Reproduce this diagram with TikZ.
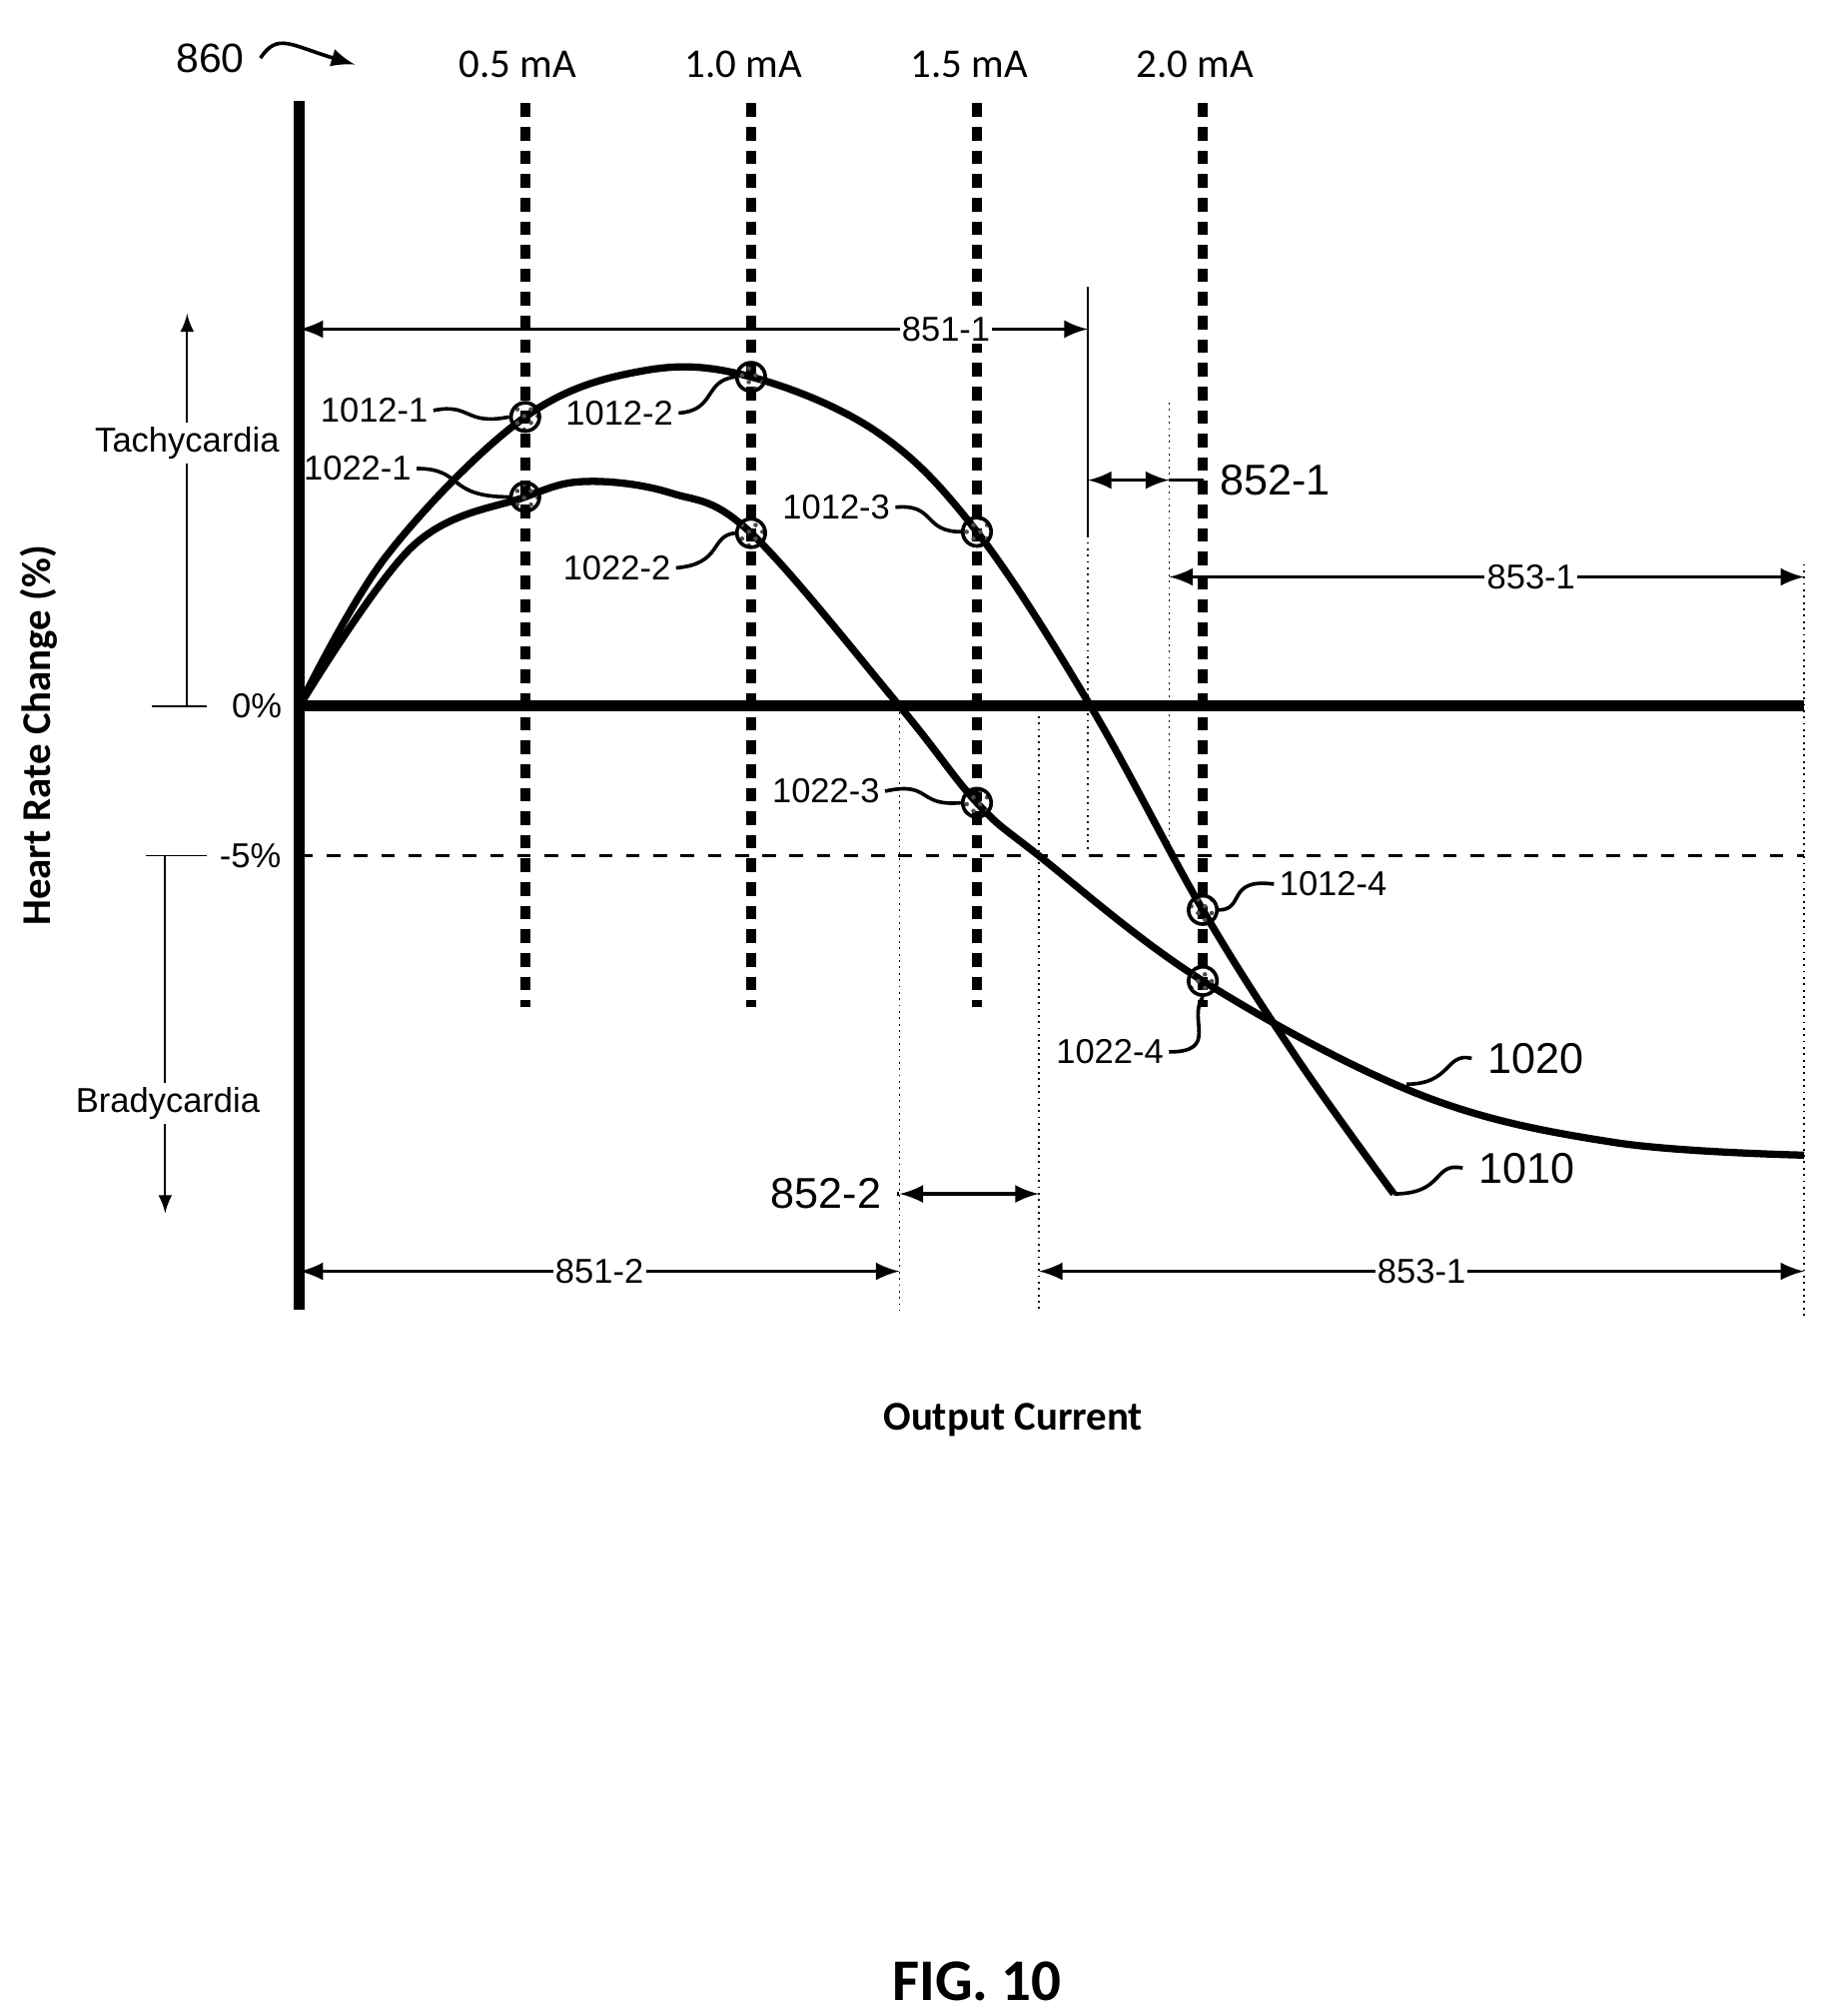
\documentclass[tikz,border=0pt]{standalone}
\usepackage{fontspec}
\setmainfont{Liberation Sans}
\newfontfamily\calfont{Carlito}
\usetikzlibrary{patterns}

\tikzset{
  lbl/.style={font=\fontsize{7.6}{9}\selectfont, inner sep=1pt},
  dimlbl/.style={font=\fontsize{7.6}{9}\selectfont, fill=white, inner sep=0.5pt},
  dim/.style={thick, latex-latex},
  guide/.style={thin, densely dotted},
  mline/.style={line width=2.2pt, dash pattern=on 3pt off 2.2pt},
  dot/.style={circle, draw, thick, minimum size=0.22cm, inner sep=0pt, pattern=crosshatch dots, pattern color=black!70},
  curve/.style={line width=1.6pt},
}
\newcommand{\squig}[2]{\draw[thick] (#1) .. controls ($(#1)!0.5!(#2)+(0,10)$) and ($(#1)!0.5!(#2)+(0,-10)$) .. (#2);}

\begin{document}
\begin{tikzpicture}[x=0.01cm, y=-0.01cm]
\useasboundingbox (0,0) rectangle (1412,1562);
\usetikzlibrary{calc}

% axes
\draw[line width=2.4pt] (232,78) -- (232,1015);
\draw[line width=2.4pt] (232,547) -- (1398,547);
\draw[thick, dashed] (232,663) -- (1398,663);
\draw (118,547) -- (160,547);
\draw (113,663) -- (160,663);
\node[lbl] (zero) at (199,547) {0\%};
\node[lbl] (minus) at (194,663) {-5\%};

% tachy / brady
\draw[-latex] (145,547) -- (145,243);
\node[lbl, fill=white] (tachy) at (145,343) {Tachycardia};
\draw[-latex] (128,663) -- (128,940);
\node[lbl, fill=white] (brady) at (130,855) {Bradycardia};
\node[font=\calfont\bfseries\fontsize{9}{11}\selectfont, rotate=90] (ylab) at (30,570) {Heart Rate Change (\%)};
\node[font=\calfont\bfseries\fontsize{9}{11}\selectfont] (xlab) at (785,1100) {Output Current};
\node[font=\calfont\bfseries\fontsize{13}{15}\selectfont] (fig) at (757,1535) {FIG. 10};

% current lines
\foreach \x/\t in {407/0.5, 582/1.0, 757/1.5, 932/2.0}{
  \node[font=\calfont\fontsize{9}{11}\selectfont] (ma\t) at (\x-6,50) {\t\ mA};
  \draw[mline] (\x,80) -- (\x,780);
}
\node[font=\fontsize{9}{11}\selectfont] (n860) at (163,45) {860};
\draw[thick, -latex] (n860.east) .. controls (215,25) and (225,35) .. (275,50);

% guides
\draw[thin] (843,222) -- (843,415);
\draw[guide] (843,415) -- (843,660);
\draw[guide] (906,312) -- (906,663);
\draw[guide] (1398,437) -- (1398,1020);
\draw[guide] (697,547) -- (697,1015);
\draw[guide] (805,550) -- (805,1015);

% curves
\draw[curve] plot[smooth, tension=0.6] coordinates {(232,547) (300,430) (407,323) (500,287) (582,292) (680,335) (757,412) (845,547) (932,705) (1005,820) (1080,925)};
\draw[curve] plot[smooth, tension=0.6] coordinates {(232,547) (320,423) (407,385) (455,373) (520,382) (582,413) (697,547) (757,622) (805,663) (932,760) (1100,848) (1250,885) (1398,895)};

% points
\node[dot] (p12a) at (407,323) {};
\node[dot] (p12b) at (582,292) {};
\node[dot] (p12c) at (757,412) {};
\node[dot] (p12d) at (932,705) {};
\node[dot] (p22a) at (407,385) {};
\node[dot] (p22b) at (582,413) {};
\node[dot] (p22c) at (757,622) {};
\node[dot] (p22d) at (932,760) {};

\node[lbl] (l12a) at (290,318) {1012-1};
\node[lbl] (l22a) at (277,363) {1022-1};
\node[lbl] (l12b) at (480,320) {1012-2};
\node[lbl] (l22b) at (478,440) {1022-2};
\node[lbl] (l12c) at (648,393) {1012-3};
\node[lbl] (l22c) at (640,613) {1022-3};
\node[lbl] (l12d) at (1033,685) {1012-4};
\node[lbl] (l22d) at (860,815) {1022-4};
\node[font=\fontsize{9.5}{11}\selectfont] (l1020) at (1190,820) {1020};
\node[font=\fontsize{9.5}{11}\selectfont] (l1010) at (1183,905) {1010};
\coordinate (e1020) at (1090,840);
\coordinate (e1010) at (1080,925);

\draw[thick] (l12a.east) .. controls (365,312) and (360,330) .. (p12a.west);
\draw[thick] (l22a.east) .. controls (360,363) and (345,385) .. (p22a.west);
\draw[thick] (l12b.east) .. controls (555,318) and (545,295) .. (p12b.west);
\draw[thick] (l22b.east) .. controls (560,437) and (550,415) .. (p22b.west);
\draw[thick] (l12c.east) .. controls (725,390) and (715,412) .. (p12c.west);
\draw[thick] (l22c.east) .. controls (722,605) and (710,625) .. (p22c.west);
\draw[thick] (l12d.west) .. controls (950,680) and (965,705) .. (p12d.east);
\draw[thick] (l22d.east) .. controls (945,815) and (920,790) .. (p22d.south);
\draw[thick] (l1020.west) .. controls (1120,815) and (1125,840) .. (e1020);
\draw[thick] (l1010.west) .. controls (1110,900) and (1120,925) .. (e1010);

% dimensions
\draw[dim] (232,255) -- node[dimlbl, pos=0.82] (d851a) {851-1} (843,255);
\draw[dim] (843,372) -- (906,372);
\node[font=\fontsize{9.5}{11}\selectfont] (d852a) at (988,372) {852-1};
\draw[thick] (906,372) -- (d852a.west);
\draw[dim] (906,447) -- node[dimlbl, pos=0.57] (d853a) {853-1} (1398,447);
\draw[dim] (232,985) -- node[dimlbl] (d851b) {851-2} (697,985);
\draw[dim] (697,925) -- (805,925);
\node[font=\fontsize{9.5}{11}\selectfont] (d852b) at (640,925) {852-2};
\draw[thick] (d852b.east) -- (697,925);
\draw[dim] (805,985) -- node[dimlbl, pos=0.5] (d853b) {853-1} (1398,985);
\end{tikzpicture}
\end{document}
